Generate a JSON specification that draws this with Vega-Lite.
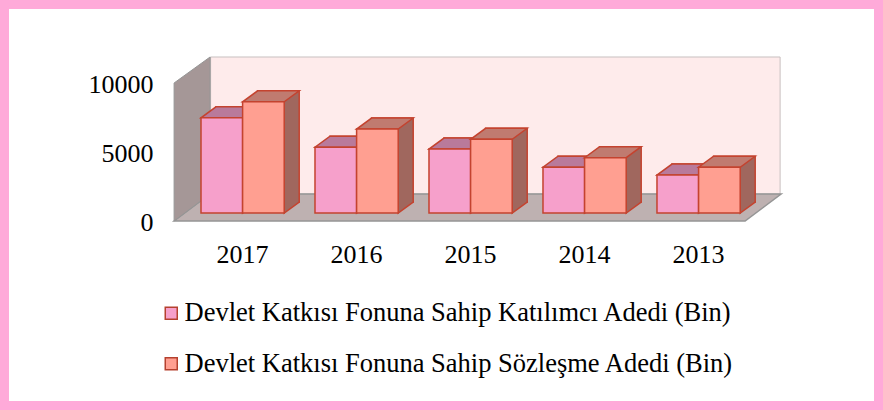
{
  "$schema": "https://vega.github.io/schema/vega-lite/v6.json",
  "width": 883,
  "height": 410,
  "padding": 0,
  "autosize": {"type": "none"},
  "background": "white",
  "config": {
    "view": {"stroke": "#FFAAD9", "strokeWidth": 18, "fill": "white"},
    "font": "Liberation Serif",
    "legend": {"labelFont": "Liberation Serif"},
    "axis": {"labelFont": "Liberation Serif"}
  },
  "datasets": {
    "bars": [
      {"year": "2017", "series": "Devlet Katkısı Fonuna Sahip Katılımcı Adedi (Bin)", "value": 6850},
      {"year": "2017", "series": "Devlet Katkısı Fonuna Sahip Sözleşme Adedi (Bin)", "value": 8000},
      {"year": "2016", "series": "Devlet Katkısı Fonuna Sahip Katılımcı Adedi (Bin)", "value": 4730},
      {"year": "2016", "series": "Devlet Katkısı Fonuna Sahip Sözleşme Adedi (Bin)", "value": 6040},
      {"year": "2015", "series": "Devlet Katkısı Fonuna Sahip Katılımcı Adedi (Bin)", "value": 4600},
      {"year": "2015", "series": "Devlet Katkısı Fonuna Sahip Sözleşme Adedi (Bin)", "value": 5300},
      {"year": "2014", "series": "Devlet Katkısı Fonuna Sahip Katılımcı Adedi (Bin)", "value": 3290},
      {"year": "2014", "series": "Devlet Katkısı Fonuna Sahip Sözleşme Adedi (Bin)", "value": 3980},
      {"year": "2013", "series": "Devlet Katkısı Fonuna Sahip Katılımcı Adedi (Bin)", "value": 2730},
      {"year": "2013", "series": "Devlet Katkısı Fonuna Sahip Sözleşme Adedi (Bin)", "value": 3290}
    ]
  },
  "layer": [
    {
      "data": {"values": [{}]},
      "mark": {"type": "point", "shape": "M-260,-19 L309.5,-19 L309.5,-156 L-260,-156 Z", "size": 4, "filled": true, "fill": "#FEEBEB", "stroke": "#C8C0C0", "strokeWidth": 1, "opacity": 1},
      "encoding": {
        "x": {"datum": "2015", "type": "ordinal", "title": null, "scale": {"type": "band", "domain": ["2017", "2016", "2015", "2014", "2013"], "paddingInner": 0.27, "paddingOuter": 0, "range": [201, 740.2]}},
        "y": {"datum": 0, "type": "quantitative", "title": null, "scale": {"domain": [-14173, 15324], "nice": false, "zero": false}}
      }
    },
    {
      "data": {"values": [{}]},
      "mark": {"type": "point", "shape": "M-296.5,8 L274.5,8 L310.5,-19 L-260.5,-19 Z", "size": 4, "filled": true, "fill": "#BEB1B1", "stroke": "#959595", "strokeWidth": 1.5, "opacity": 1},
      "encoding": {
        "x": {"datum": "2015", "type": "ordinal", "title": null, "scale": {"type": "band", "domain": ["2017", "2016", "2015", "2014", "2013"], "paddingInner": 0.27, "paddingOuter": 0, "range": [201, 740.2]}},
        "y": {"datum": 0, "type": "quantitative", "title": null, "scale": {"domain": [-14173, 15324], "nice": false, "zero": false}}
      }
    },
    {
      "data": {"values": [{}]},
      "mark": {"type": "point", "shape": "M-296.5,8 L-296.5,-130 L-260.5,-156 L-260.5,-19 Z", "size": 4, "filled": true, "fill": "#A59797", "stroke": "#959595", "strokeWidth": 1, "opacity": 1},
      "encoding": {
        "x": {"datum": "2015", "type": "ordinal", "title": null, "scale": {"type": "band", "domain": ["2017", "2016", "2015", "2014", "2013"], "paddingInner": 0.27, "paddingOuter": 0, "range": [201, 740.2]}},
        "y": {"datum": 0, "type": "quantitative", "title": null, "scale": {"domain": [-14173, 15324], "nice": false, "zero": false}}
      }
    },
    {
      "data": {"name": "bars"},
      "transform": [{"filter": "datum.series === 'Devlet Katkısı Fonuna Sahip Katılımcı Adedi (Bin)'"}],
      "mark": {"type": "bar", "width": 41.6, "xOffset": -5.8, "yOffset": -11, "y2Offset": -11, "fill": "#A5607F", "stroke": "#C4432F", "strokeWidth": 1.5},
      "encoding": {
        "x": {"field": "year", "type": "ordinal", "title": null, "scale": {"type": "band", "domain": ["2017", "2016", "2015", "2014", "2013"], "paddingInner": 0.27, "paddingOuter": 0, "range": [201, 740.2]}},
        "y": {"field": "value", "type": "quantitative", "title": null, "scale": {"domain": [-14173, 15324], "nice": false, "zero": false}},
        "y2": {"datum": 0}
      }
    },
    {
      "data": {"name": "bars"},
      "transform": [{"filter": "datum.series === 'Devlet Katkısı Fonuna Sahip Sözleşme Adedi (Bin)'"}],
      "mark": {"type": "bar", "width": 41.6, "xOffset": 35.8, "yOffset": -11, "y2Offset": -11, "fill": "#A0675E", "stroke": "#C4432F", "strokeWidth": 1.5},
      "encoding": {
        "x": {"field": "year", "type": "ordinal", "title": null, "scale": {"type": "band", "domain": ["2017", "2016", "2015", "2014", "2013"], "paddingInner": 0.27, "paddingOuter": 0, "range": [201, 740.2]}},
        "y": {"field": "value", "type": "quantitative", "title": null, "scale": {"domain": [-14173, 15324], "nice": false, "zero": false}},
        "y2": {"datum": 0}
      }
    },
    {
      "data": {"name": "bars"},
      "mark": {"type": "point", "shape": "M20.8,-12 L20.8,0 L35.8,-11 L35.8,-12", "size": 4, "filled": true, "stroke": "#C4432F", "strokeWidth": 1.5, "opacity": 1},
      "encoding": {
        "x": {"field": "year", "type": "ordinal", "title": null, "scale": {"type": "band", "domain": ["2017", "2016", "2015", "2014", "2013"], "paddingInner": 0.27, "paddingOuter": 0, "range": [201, 740.2]}},
        "xOffset": {"field": "series", "type": "nominal", "scale": {"domain": ["Devlet Katkısı Fonuna Sahip Katılımcı Adedi (Bin)", "Devlet Katkısı Fonuna Sahip Sözleşme Adedi (Bin)"], "paddingInner": 0, "paddingOuter": 0}},
        "y": {"datum": 0, "type": "quantitative", "title": null, "scale": {"domain": [-14173, 15324], "nice": false, "zero": false}},
        "fill": {"field": "series", "type": "nominal", "scale": {"domain": ["Devlet Katkısı Fonuna Sahip Katılımcı Adedi (Bin)", "Devlet Katkısı Fonuna Sahip Sözleşme Adedi (Bin)"], "range": ["#A5607F", "#A0675E"]}, "legend": null}
      }
    },
    {
      "data": {"name": "bars"},
      "mark": {"type": "point", "shape": "M-20.8,0 L20.8,0 L35.8,-11 L-5.8,-11 Z", "size": 4, "filled": true, "stroke": "#C4432F", "strokeWidth": 1.5, "opacity": 1},
      "encoding": {
        "x": {"field": "year", "type": "ordinal", "title": null, "scale": {"type": "band", "domain": ["2017", "2016", "2015", "2014", "2013"], "paddingInner": 0.27, "paddingOuter": 0, "range": [201, 740.2]}},
        "xOffset": {"field": "series", "type": "nominal", "scale": {"domain": ["Devlet Katkısı Fonuna Sahip Katılımcı Adedi (Bin)", "Devlet Katkısı Fonuna Sahip Sözleşme Adedi (Bin)"], "paddingInner": 0, "paddingOuter": 0}},
        "y": {"field": "value", "type": "quantitative", "title": null, "scale": {"domain": [-14173, 15324], "nice": false, "zero": false}},
        "fill": {"field": "series", "type": "nominal", "scale": {"domain": ["Devlet Katkısı Fonuna Sahip Katılımcı Adedi (Bin)", "Devlet Katkısı Fonuna Sahip Sözleşme Adedi (Bin)"], "range": ["#B97A9B", "#C07B70"]}, "legend": null}
      }
    },
    {
      "data": {"name": "bars"},
      "mark": {"type": "bar", "stroke": "#C4432F", "strokeWidth": 1.5},
      "encoding": {
        "x": {
          "field": "year", "type": "ordinal", "title": null,
          "scale": {"type": "band", "domain": ["2017", "2016", "2015", "2014", "2013"], "paddingInner": 0.27, "paddingOuter": 0, "range": [201, 740.2]},
          "axis": {"orient": "bottom", "offset": -156, "bandPosition": 0.5, "domain": false, "ticks": false, "tickSize": 0, "labelPadding": 0, "labelAlign": "center", "labelBaseline": "middle", "labelAngle": 0, "labelFontSize": 26, "labelFont": "Liberation Serif", "labelColor": "black", "grid": false}
        },
        "xOffset": {"field": "series", "type": "nominal", "scale": {"domain": ["Devlet Katkısı Fonuna Sahip Katılımcı Adedi (Bin)", "Devlet Katkısı Fonuna Sahip Sözleşme Adedi (Bin)"], "paddingInner": 0, "paddingOuter": 0}},
        "y": {
          "field": "value", "type": "quantitative", "title": null,
          "scale": {"domain": [-14173, 15324], "nice": false, "zero": false},
          "axis": {"orient": "left", "offset": -153, "values": [0, 5000, 10000], "format": "d", "domain": false, "ticks": false, "tickSize": 0, "labelPadding": 0, "labelOffset": 10, "labelBaseline": "middle", "labelFontSize": 26, "labelFont": "Liberation Serif", "labelColor": "black", "grid": false}
        },
        "y2": {"datum": 0},
        "color": {
          "field": "series", "type": "nominal",
          "scale": {"domain": ["Devlet Katkısı Fonuna Sahip Katılımcı Adedi (Bin)", "Devlet Katkısı Fonuna Sahip Sözleşme Adedi (Bin)"], "range": ["#F6A0CB", "#FF9F91"]},
          "legend": {"orient": "none", "legendX": 158, "legendY": 300, "title": null, "direction": "vertical", "symbolType": "square", "symbolSize": 144, "symbolStrokeColor": "#B5412E", "symbolStrokeWidth": 1.5, "symbolOpacity": 1, "labelFontSize": 26.5, "labelFont": "Liberation Serif", "labelColor": "black", "labelOffset": 0, "rowPadding": 23.5, "labelLimit": 1000, "padding": 0}
        }
      }
    }
  ],
  "resolve": {"scale": {"fill": "independent"}}
}
